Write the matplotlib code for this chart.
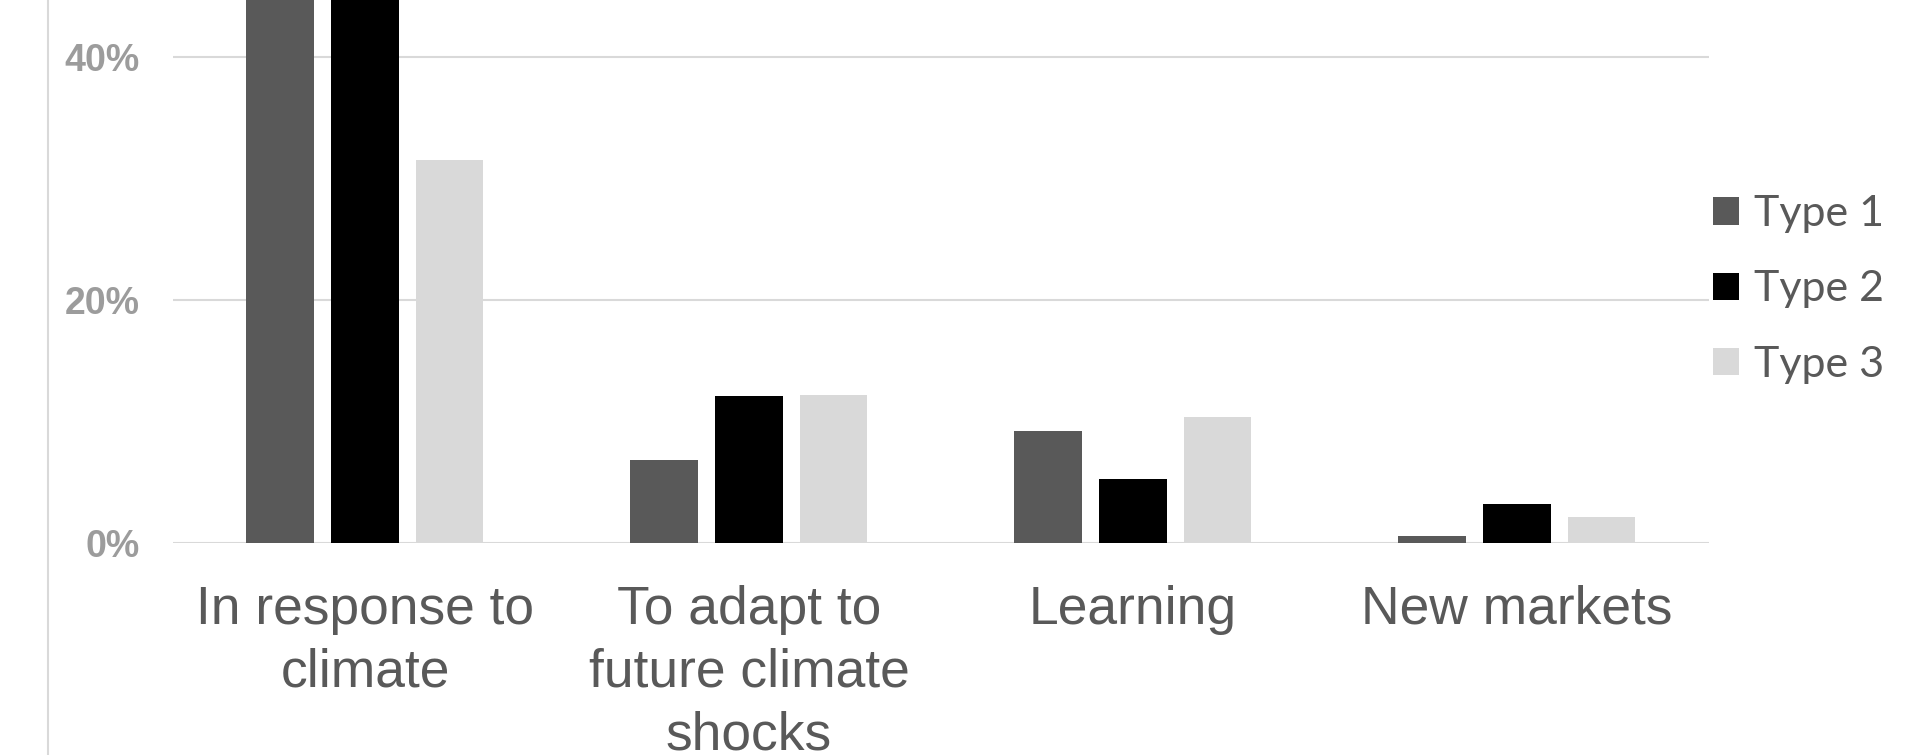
import numpy as np
import matplotlib
matplotlib.use("Agg")
import matplotlib.pyplot as plt
from matplotlib.patches import Patch
from matplotlib.lines import Line2D

# motives for adopting the practice, share of households by type (%)
categories = ["In response to\nclimate", "To adapt to\nfuture climate\nshocks",
              "Learning", "New markets"]
series_names = ["Type 1", "Type 2", "Type 3"]
type1 = [50.0, 6.8, 9.2, 0.6]
type2 = [52.0, 12.1, 5.3, 3.2]
type3 = [31.5, 12.2, 10.4, 2.1]
yticks = [0, 20, 40]
ytick_labels = ["0%", "20%", "40%"]

colors = ["#595959", "#000000", "#d9d9d9"]
grid_color = "#d9d9d9"
text_color = "#595959"

fig = plt.figure(figsize=(19.09, 7.55), dpi=100)
ax = fig.add_axes([0.0906, 0.2808, 0.8046, 0.7192])

x = np.arange(len(categories))
pitch = 0.221
width = 0.175
for i, (vals, name) in enumerate(zip([type1, type2, type3], series_names)):
    ax.bar(x + (i - 1) * pitch, vals, width, color=colors[i], label=name,
           zorder=3, linewidth=0)

ax.set_xlim(-0.5, len(categories) - 0.5)
ax.set_ylim(0, 44.69)
ax.set_yticks(yticks)
ax.set_yticklabels(ytick_labels, family="Liberation Sans", fontweight="bold",
                   fontsize=27, color="#9c9c9c")
ax.set_xticks(x)
ax.set_xticklabels(categories, family="Liberation Sans", fontsize=38.4,
                   color=text_color, linespacing=1.33)
ax.tick_params(axis="y", length=0, pad=24)
ax.tick_params(axis="x", length=0, pad=30)

ax.grid(axis="y", color=grid_color, linewidth=1.5, zorder=0)
ax.set_axisbelow(True)
for side in ["top", "right", "left", "bottom"]:
    ax.spines[side].set_visible(False)

# left border of the chart area, full height
fig.add_artist(Line2D([0.0249, 0.0249], [0, 1], color=grid_color,
                      linewidth=1.5, transform=fig.transFigure))

handles = [Patch(facecolor=c, edgecolor="none") for c in colors]
fig.legend(handles, series_names, loc="center left",
           bbox_to_anchor=(0.8973, 0.6166), frameon=False,
           prop={"family": "Lato", "size": 31}, labelcolor=text_color,
           handlelength=0.6, handleheight=0.6, handletextpad=0.35,
           labelspacing=0.87, borderpad=0, borderaxespad=0)

fig.savefig("out.png", dpi=100, facecolor="white")
